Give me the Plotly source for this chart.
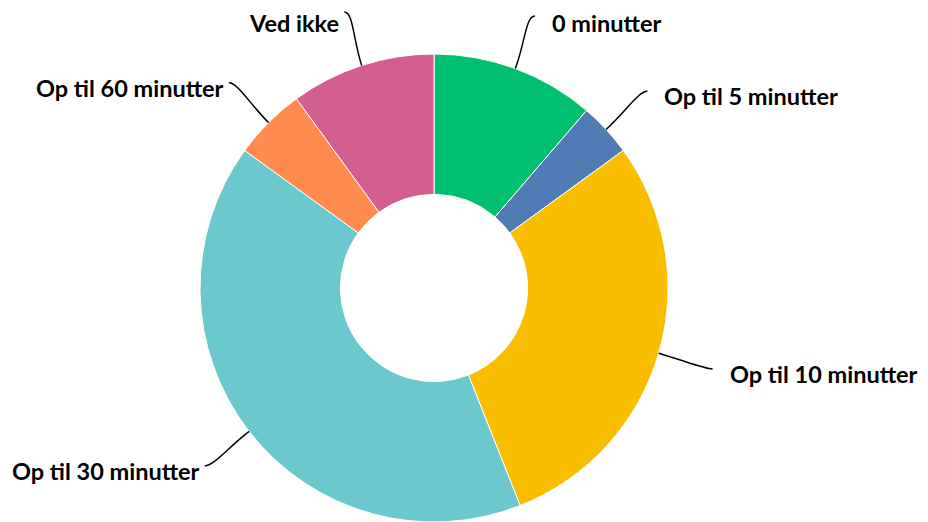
import numpy as np
import plotly.graph_objects as go

labels = ["0 minutter", "Op til 5 minutter", "Op til 10 minutter",
          "Op til 30 minutter", "Op til 60 minutter", "Ved ikke"]
shares = [11.3, 3.7, 29.0, 41.0, 5.0, 10.0]
colors = ["#00BF6F", "#507CB6", "#F9BE00", "#6BC8CD", "#FF8B4F", "#D25F90"]

# figure size and donut geometry in pixels (page body has an 8px margin)
W, H = 920, 514
CX, CY, R = 426, 280, 234


def to_paper(px, py):
    return px / W, 1 - py / H


fig = go.Figure(
    go.Pie(
        labels=labels,
        values=shares,
        hole=0.4,
        sort=False,
        direction="clockwise",
        rotation=0,
        textinfo="none",
        marker=dict(colors=colors, line=dict(color="white", width=1)),
        domain=dict(x=[(CX - R) / W, (CX + R) / W],
                    y=[(H - CY - R) / H, (H - CY + R) / H]),
        showlegend=False,
        hovertemplate="%{label}: %{percent}<extra></extra>",
    )
)

# labels with curved leader lines, placed from the slice mid angles
vals = np.array(shares, dtype=float)
mids = (np.cumsum(vals) - vals / 2) / vals.sum() * 2 * np.pi
shapes = []
annotations = []
for lab, th in zip(labels, mids):
    sx, sy = np.sin(th), -np.cos(th)
    side = 1 if sx > 0 else -1
    p0 = (CX + R * sx, CY + R * sy)
    p1 = (CX + 1.12 * R * sx, CY + 1.12 * R * sy)
    p3 = (CX + 1.24 * R * sx, CY + 1.24 * R * sy)
    p2 = (p3[0] - side * 9, p3[1])
    pts = [to_paper(*p) for p in (p0, p1, p2, p3)]
    path = "M {},{} C {},{} {},{} {},{}".format(*[v for p in pts for v in p])
    shapes.append(dict(type="path", path=path, xref="paper", yref="paper",
                       line=dict(color="black", width=1.5)))
    gap = 15 if side > 0 else 3
    # keep the top labels inside the figure
    tx, ty = to_paper(p3[0] + side * gap, max(p3[1] + 5, 15))
    annotations.append(dict(
        text=lab, x=tx, y=ty, xref="paper", yref="paper",
        xanchor="left" if side > 0 else "right", yanchor="middle",
        showarrow=False,
        font=dict(family="Lato", size=23.5, color="black", weight="bold"),
    ))

fig.update_layout(
    width=W,
    height=H,
    margin=dict(l=0, r=0, t=0, b=0),
    paper_bgcolor="white",
    plot_bgcolor="white",
    shapes=shapes,
    annotations=annotations,
)

fig.write_html("out.html")
